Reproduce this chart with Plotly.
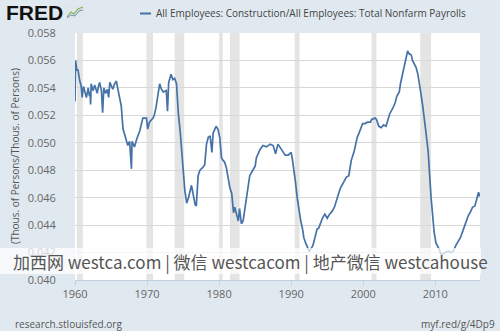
import plotly.graph_objects as go

# ---- data ----
dates = [
"1960-01","1960-02","1960-04","1960-06","1960-09","1960-11","1961-01","1961-03","1961-05","1961-08","1961-11",
"1962-01","1962-02","1962-03","1962-04","1962-07","1962-10","1963-02","1963-04","1963-06","1963-09","1963-11",
"1964-01","1964-04","1964-07","1964-09","1964-11","1965-02","1965-04","1965-07","1965-10","1965-12","1966-01",
"1966-03","1966-06","1966-09","1966-11","1967-03","1967-05","1967-08","1967-11","1967-12","1968-04","1968-08",
"1969-01","1969-06","1969-12","1970-02","1970-05","1970-11","1971-01","1971-04","1971-07","1971-10","1972-01",
"1972-04","1972-09","1972-11","1973-01","1973-03","1973-05","1973-08","1973-11","1974-02","1974-03","1974-05",
"1974-08","1974-10","1975-01","1975-04","1975-07","1975-10","1976-03","1976-06","1976-09","1976-11","1977-02",
"1977-05","1977-10","1978-01","1978-04","1978-07","1978-10","1979-01","1979-03","1979-08","1979-11","1980-02",
"1980-05","1980-08","1980-10","1981-01","1981-04","1981-07","1981-10","1982-01","1982-03","1982-06","1982-09",
"1982-11","1983-02","1983-05","1983-08","1983-11","1984-02","1984-04","1984-09","1985-01","1985-03","1985-06",
"1985-09","1986-02","1986-08","1987-02","1987-07","1987-11","1988-03","1988-09","1989-03","1989-08","1990-01",
"1990-03","1990-05","1990-08","1990-11","1991-02","1991-05","1991-08","1991-10","1992-01","1992-04","1992-07",
"1992-09","1993-01","1993-03","1993-05","1993-08","1993-11","1994-02","1994-05","1994-09","1995-01","1995-05",
"1995-09","1996-01","1996-04","1996-08","1996-11","1997-04","1997-09","1998-01","1998-03","1998-05","1998-10",
"1998-12","1999-03","1999-06","1999-09","1999-12","2000-04","2000-08","2001-01","2001-03","2001-09","2001-11",
"2002-03","2002-07","2002-11","2003-03","2003-05","2003-09","2004-02","2004-06","2004-09","2005-01","2005-03",
"2005-06","2005-09","2006-01","2006-03","2006-05","2006-09","2006-11","2007-02","2007-05","2007-08","2007-10",
"2008-01","2008-04","2008-07","2008-09","2009-01","2009-03","2009-06","2009-09","2009-11","2010-02","2010-05",
"2010-08","2010-10","2011-02","2011-05","2011-11","2012-03","2012-07","2012-11","2013-03","2013-07","2013-11",
"2014-04","2014-08","2014-12","2015-03","2015-07","2015-10","2016-01","2016-02","2016-03"]
values = [
0.0530,0.0560,0.0553,0.0553,0.0545,0.0542,0.0533,0.0541,0.0538,0.0533,0.0540,
0.0534,0.0537,0.0528,0.0543,0.0538,0.0542,0.0536,0.0541,0.0544,0.0538,0.0522,
0.0540,0.0536,0.0539,0.0533,0.0544,0.0540,0.0539,0.0543,0.0545,0.0540,0.0538,
0.0533,0.0527,0.0510,0.0507,0.0501,0.0498,0.0501,0.0481,0.0501,0.0497,0.0503,
0.0509,0.0518,0.0518,0.0510,0.0515,0.0518,0.0520,0.0526,0.0533,0.0543,0.0539,
0.0537,0.0538,0.0523,0.0544,0.0547,0.0550,0.0546,0.0547,0.0543,0.0536,0.0522,
0.0509,0.0497,0.0480,0.0465,0.0456,0.0460,0.0469,0.0463,0.0455,0.0454,0.0476,
0.0480,0.0482,0.0484,0.0499,0.0504,0.0505,0.0493,0.0507,0.0512,0.0510,0.0504,
0.0489,0.0487,0.0486,0.0482,0.0474,0.0467,0.0463,0.0449,0.0453,0.0448,0.0443,
0.0452,0.0441,0.0443,0.0453,0.0459,0.0470,0.0476,0.0480,0.0483,0.0489,0.0492,
0.0495,0.0498,0.0497,0.0499,0.0498,0.0492,0.0499,0.0495,0.0491,0.0491,0.0493,
0.0488,0.0482,0.0472,0.0460,0.0450,0.0443,0.0437,0.0431,0.0427,0.0424,0.0421,
0.0422,0.0425,0.0428,0.0432,0.0437,0.0438,0.0442,0.0445,0.0448,0.0445,0.0448,
0.0450,0.0453,0.0458,0.0463,0.0467,0.0471,0.0475,0.0476,0.0481,0.0487,0.0494,
0.0499,0.0504,0.0507,0.0511,0.0514,0.0514,0.0515,0.0515,0.0517,0.0518,0.0517,
0.0512,0.0511,0.0513,0.0512,0.0515,0.0521,0.0525,0.0529,0.0534,0.0537,0.0543,
0.0549,0.0553,0.0561,0.0567,0.0565,0.0564,0.0560,0.0557,0.0555,0.0550,0.0543,
0.0536,0.0527,0.0518,0.0509,0.0494,0.0477,0.0460,0.0445,0.0435,0.0427,0.0425,
0.0422,0.0419,0.0419,0.0420,0.0421,0.0420,0.0421,0.0425,0.0428,0.0431,0.0436,
0.0442,0.0447,0.0450,0.0453,0.0454,0.0459,0.0464,0.0461,0.0463]

recession_starts = ["1960-04-01","1969-12-01","1973-11-01","1980-01-01","1981-07-01","1990-07-01","2001-03-01","2007-12-01"]
recession_ends   = ["1961-02-01","1970-11-01","1975-03-01","1980-07-01","1982-11-01","1991-03-01","2001-11-01","2009-06-01"]

x_tick_vals = ["1960-01-01","1970-01-01","1980-01-01","1990-01-01","2000-01-01","2010-01-01"]
x_tick_text = ["1960","1970","1980","1990","2000","2010"]
y_tick_vals = [0.040,0.042,0.044,0.046,0.048,0.050,0.052,0.054,0.056,0.058]
y_tick_text = ["0.040","0.042","0.044","0.046","0.048","0.050","0.052","0.054","0.056","0.058"]

series_name = "All Employees: Construction/All Employees: Total Nonfarm Payrolls"
y_title = "(Thous. of Persons/Thous. of Persons)"
watermark = "加西网 westca.com | 微信 westcacom | 地产微信 westcahouse"

LINE = "#4572a7"
BG = "#e1e9f0"
FONT = "Open Sans"

fig = go.Figure()
fig.add_trace(go.Scatter(x=dates, y=values, mode="lines",
                         line=dict(color=LINE, width=1.7), name=series_name,
                         showlegend=False))

shapes = []
for s, e in zip(recession_starts, recession_ends):
    shapes.append(dict(type="rect", xref="x", yref="paper", x0=s, x1=e, y0=0, y1=1,
                       fillcolor="#e4e4e4", line=dict(width=0), layer="below"))

# plot region in px: left 75, right 480, top 33, bottom 280
L, R, T, B = 75, 480, 33, 280
def px(x): return (x - L) / (R - L)
def py(y): return (B - y) / (B - T)

# legend line sample
shapes.append(dict(type="line", xref="paper", yref="paper",
                   x0=px(140), x1=px(151), y0=py(13.5), y1=py(13.5),
                   line=dict(color=LINE, width=2)))
# watermark band
shapes.append(dict(type="rect", xref="paper", yref="paper",
                   x0=px(0), x1=px(481), y0=py(274), y1=py(248),
                   fillcolor="rgba(255,255,255,0.72)", line=dict(width=0), layer="above"))
# FRED logo icon
shapes.append(dict(type="rect", xref="paper", yref="paper",
                   x0=px(66), x1=px(84), y0=py(19), y1=py(5),
                   fillcolor="#dfe6ec", line=dict(width=0)))
shapes.append(dict(type="path", xref="paper", yref="paper",
                   path="M %f %f L %f %f L %f %f L %f %f L %f %f" % (
                       px(67), py(17), px(71), py(12), px(74), py(14), px(78), py(9), px(83), py(7)),
                   line=dict(color="#7fb446", width=1.2)))
shapes.append(dict(type="path", xref="paper", yref="paper",
                   path="M %f %f L %f %f L %f %f L %f %f L %f %f" % (
                       px(67), py(18), px(71), py(15), px(75), py(16), px(79), py(11), px(83), py(10)),
                   line=dict(color="#6d8fb8", width=1.0)))

annotations = [
    dict(text=series_name, xref="paper", yref="paper", x=px(154), y=py(13.5),
         xanchor="left", yanchor="middle", showarrow=False,
         font=dict(family=FONT, size=10, color="#444444")),
    dict(text="<b>FRED</b>", xref="paper", yref="paper", x=px(4), y=py(13),
         xanchor="left", yanchor="middle", showarrow=False,
         font=dict(family="Liberation Sans", size=21, color="#111111")),
    dict(text=y_title, xref="paper", yref="paper", x=px(15), y=py(156),
         xanchor="center", yanchor="middle", showarrow=False, textangle=-90,
         font=dict(family=FONT, size=10, color="#555555")),
    dict(text=watermark, xref="paper", yref="paper", x=px(250), y=py(261),
         xanchor="center", yanchor="middle", showarrow=False,
         font=dict(family="Noto Sans CJK SC", size=17, color="#555555")),
    dict(text="research.stlouisfed.org", xref="paper", yref="paper", x=px(13), y=py(324),
         xanchor="left", yanchor="middle", showarrow=False,
         font=dict(family=FONT, size=10, color="#555555")),
    dict(text="myf.red/g/4Dp9", xref="paper", yref="paper", x=px(497), y=py(324),
         xanchor="right", yanchor="middle", showarrow=False,
         font=dict(family=FONT, size=10, color="#555555")),
]

fig.update_layout(
    width=500, height=331,
    margin=dict(l=L, r=500 - R, t=T, b=331 - B),
    paper_bgcolor=BG, plot_bgcolor="white",
    font=dict(family=FONT, size=11, color="#666666"),
    shapes=shapes, annotations=annotations,
    xaxis=dict(type="date", range=["1960-01-01", "2016-03-15"],
               tickvals=x_tick_vals, ticktext=x_tick_text,
               showgrid=False, zeroline=False,
               showline=True, linecolor="#c0d0e0", linewidth=1,
               ticks="outside", ticklen=4, tickcolor="#c0d0e0",
               tickfont=dict(family=FONT, size=11, color="#666666")),
    yaxis=dict(range=[0.040, 0.058], tickvals=y_tick_vals, ticktext=y_tick_text,
               showgrid=True, gridcolor="#d8d8d8", gridwidth=1, zeroline=False,
               showline=False, ticks="outside", ticklen=16, tickcolor="rgba(0,0,0,0)",
               tickfont=dict(family=FONT, size=11, color="#666666")),
)

fig.write_html("out.html")
